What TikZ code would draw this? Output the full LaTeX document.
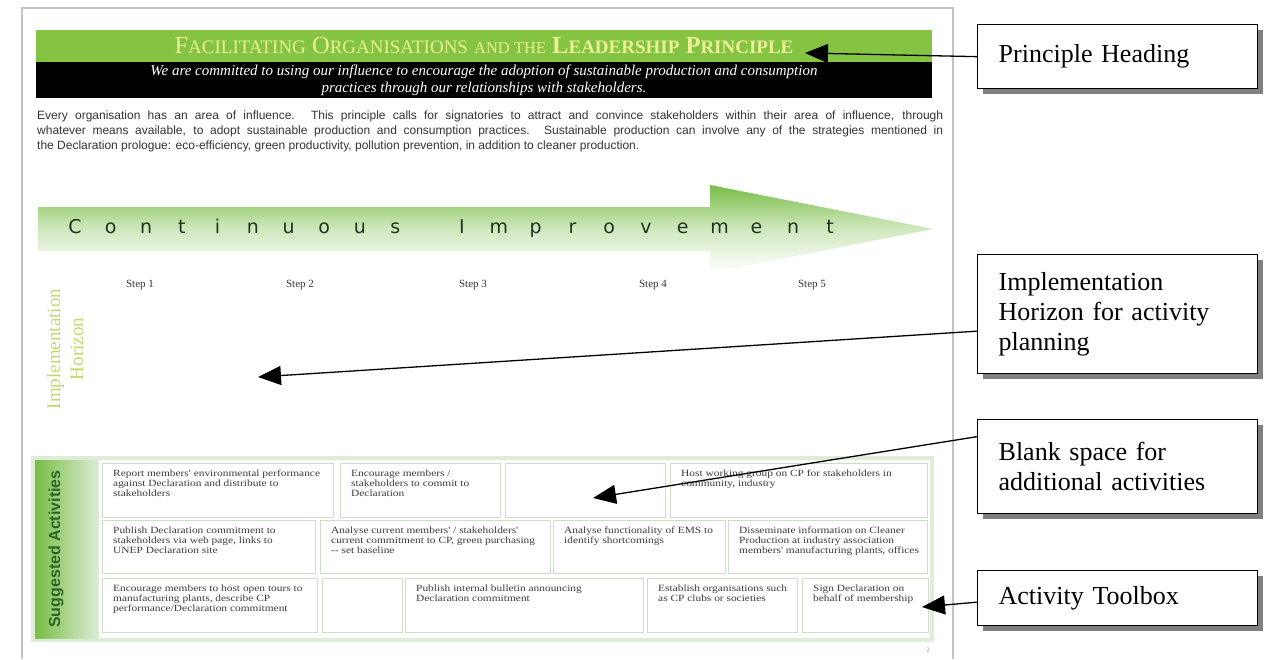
\documentclass[tikz,border=0pt]{standalone}
\usepackage{fontspec}
\setmainfont{Liberation Serif}
\setsansfont{Liberation Sans}
\newfontfamily\cellfont[FakeStretch=1.2]{Liberation Serif}
\newfontfamily\arrowfont{DejaVu Sans}
\usetikzlibrary{arrows.meta,positioning,shadows}

\definecolor{leafgreen}{RGB}{132,196,66}
\definecolor{paleyellow}{RGB}{236,240,150}
\definecolor{arrowgreen}{RGB}{120,190,70}
\definecolor{deepgreen}{RGB}{45,100,35}
\definecolor{horizongreen}{RGB}{196,214,110}
\definecolor{cellline}{RGB}{205,222,200}
\definecolor{framegreen}{RGB}{222,236,216}
\definecolor{pagegray}{RGB}{195,195,195}
\definecolor{celltextgray}{RGB}{60,60,60}
\definecolor{lettergray}{RGB}{35,50,35}

% small caps by hand (Liberation has none)
\newcommand\scap[2]{#1{\fontsize{19}{19}\selectfont\MakeUppercase{#2}}}

\begin{document}
\begin{tikzpicture}[%
    x=1pt, y=-1pt,                       % one unit = one pixel, y down
    >={Triangle[length=23pt,width=19pt]},
    ]

\tikzset{
    bar/.style={minimum width=896, inner sep=0pt, align=center},
    stepname/.style={font={\fontsize{11}{11}\selectfont}, text=black!80},
    letter/.style={anchor=base, font={\arrowfont\fontsize{19}{19}\selectfont}, text=lettergray},
    cell/.style={draw=cellline, line width=1.2pt, fill=white, anchor=north west, inner sep=0pt},
    celltext/.style={anchor=north west, inner sep=0pt, align=left, text=celltextgray,
        font={\cellfont\fontsize{9.5}{10}\selectfont}},
    % callout boxes on the right
    callout/.style={draw, line width=1.3pt, fill=white, anchor=north west, inner xsep=21pt,
        align=left, text width=238pt, font={\fontsize{26}{30}\selectfont},
        drop shadow={shadow xshift=5pt, shadow yshift=-5pt, fill=black!50, opacity=1}},
    pointer/.style={->, line width=1.3pt},
}

\useasboundingbox (0,0) rectangle (1266,659);

%% page
\draw[pagegray, line width=1.5pt] (22,659) -- (22,8) -- (953,8) -- (953,659);

%% heading
\node[bar, fill=leafgreen, minimum height=32, text=paleyellow,
      font={\fontsize{24.5}{24.5}\selectfont}] (heading) at (484,46)
    {\scap{F}{acilitating} \scap{O}{rganisations} {\fontsize{16.5}{16.5}\selectfont AND THE}
     \textbf{\scap{L}{eadership} \scap{P}{rinciple}}};
\node[bar, fill=black, minimum height=36, text=white,
      font={\itshape\fontsize{15}{17}\selectfont}, below=0pt of heading] (commit)
    {We are committed to using our influence to encourage the adoption of sustainable production and consumption\\
     practices through our relationships with stakeholders.};

\node[anchor=north west, inner sep=0pt, text width=906pt, align=justify, text=black!80,
      font={\sffamily\fontsize{12}{15}\selectfont}] (intro) at (37,111)
    {Every organisation has an area of influence. This principle calls for signatories to attract and convince stakeholders within their area of influence, through\linebreak
     whatever means available, to adopt sustainable production and consumption practices. Sustainable production can involve any of the strategies mentioned in\linebreak
     the Declaration prologue: eco-efficiency, green productivity, pollution prevention, in addition to cleaner production.};

%% continuous improvement arrow
\shade[top color=arrowgreen, bottom color=white, middle color=arrowgreen!35]
    (38,207) -- (710,207) -- (710,185) -- (933,229) -- (710,273) -- (710,251) -- (38,251) -- cycle;
\foreach \ch [count=\i from 0] in {C,o,n,t,i,n,u,o,u,s}
    \node[letter] (cont\i) at (75+35.6*\i,233) {\ch};
\foreach \ch [count=\i from 0] in {I,m,p,r,o,v,e,m,e,n,t}
    \node[letter] (impr\i) at (462+36.8*\i,233) {\ch};

\foreach \x [count=\i] in {140,300,473,653,812}
    \node[stepname] (step\i) at (\x,285) {Step \i};

\node[rotate=90, align=center, text=horizongreen,
      font={\fontsize{19}{23}\selectfont}] (horizon) at (65,349) {Implementation\\Horizon};

%% suggested activities
\node[draw=framegreen, line width=4pt, minimum width=899, minimum height=182,
      inner sep=0pt] (toolbox) at (482.5,549) {};
\node[anchor=north west, minimum width=64, minimum height=178, inner sep=0pt,
      left color=arrowgreen, right color=framegreen] (sidebar) at (35,460) {};
\node[rotate=90, text=deepgreen, font={\sffamily\bfseries\fontsize{16}{16}\selectfont}]
    (suggested) at (56,549) {Suggested Activities};

% row 1
\node[cell, minimum width=231, minimum height=54] (a1) at (102,463) {};
\node[celltext] (ta1) at ([shift={(11,7)}]a1.north west)
    {Report members' environmental performance\\against Declaration and distribute to\\stakeholders};
\node[cell, minimum width=160, minimum height=54] (a2) at (340,463) {};
\node[celltext] (ta2) at ([shift={(11,7)}]a2.north west)
    {Encourage members /\\stakeholders to commit to\\Declaration};
\node[cell, minimum width=160, minimum height=54] (a3) at (505,463) {};
\node[cell, minimum width=257, minimum height=54] (a4) at (670,463) {};
\node[celltext] (ta4) at ([shift={(11,7)}]a4.north west)
    {Host working group on CP for stakeholders in\\community, industry};

% row 2
\node[cell, minimum width=213, minimum height=53] (b1) at (102,520) {};
\node[celltext] (tb1) at ([shift={(11,7)}]b1.north west)
    {Publish Declaration commitment to\\stakeholders via web page, links to\\UNEP Declaration site};
\node[cell, minimum width=230, minimum height=53] (b2) at (320,520) {};
\node[celltext] (tb2) at ([shift={(11,7)}]b2.north west)
    {Analyse current members' / stakeholders'\\current commitment to CP, green purchasing\\-- set baseline};
\node[cell, minimum width=172, minimum height=53] (b3) at (553,520) {};
\node[celltext] (tb3) at ([shift={(11,7)}]b3.north west)
    {Analyse functionality of EMS to\\identify shortcomings};
\node[cell, minimum width=199, minimum height=53] (b4) at (728,520) {};
\node[celltext] (tb4) at ([shift={(11,7)}]b4.north west)
    {Disseminate information on Cleaner\\Production at industry association\\members' manufacturing plants, offices};

% row 3
\node[cell, minimum width=215, minimum height=54] (c1) at (102,578) {};
\node[celltext] (tc1) at ([shift={(11,7)}]c1.north west)
    {Encourage members to host open tours to\\manufacturing plants, describe CP\\performance/Declaration commitment};
\node[cell, minimum width=80, minimum height=54] (c2) at (322,578) {};
\node[cell, minimum width=238, minimum height=54] (c3) at (405,578) {};
\node[celltext] (tc3) at ([shift={(11,7)}]c3.north west)
    {Publish internal bulletin announcing\\Declaration commitment};
\node[cell, minimum width=150, minimum height=54] (c4) at (647,578) {};
\node[celltext] (tc4) at ([shift={(11,7)}]c4.north west)
    {Establish organisations such\\as CP clubs or societies};
\node[cell, minimum width=126, minimum height=54] (c5) at (802,578) {};
\node[celltext] (tc5) at ([shift={(11,7)}]c5.north west)
    {Sign Declaration on\\behalf of membership};

\node[font={\fontsize{7}{7}\selectfont}, text=black!40] (pagenum) at (928,650) {2};

%% callouts
\node[callout, minimum height=64] (phead) at (977,24) {Principle Heading};
\node[callout, minimum height=119] (ihor) at (977,254)
    {Implementation\\Horizon for activity\\planning};
\node[callout, minimum height=94] (blank) at (977,419) {Blank space for\\additional activities};
\node[callout, minimum height=55] (tbox) at (977,570) {Activity Toolbox};

\coordinate (headtip) at (805,53);
\coordinate (horizontip) at (258,377);
\coordinate (blanktip) at (593,498);
\coordinate (toolboxtip) at (922,607);
    \draw[pointer] (phead.west) -- (headtip);
    \draw[pointer] ([yshift=-17pt]ihor.west) -- (horizontip);
    \draw[pointer] ([yshift=30pt]blank.west) -- (blanktip);
    \draw[pointer] ([yshift=-4pt]tbox.west) -- (toolboxtip);
\end{tikzpicture}
\end{document}
